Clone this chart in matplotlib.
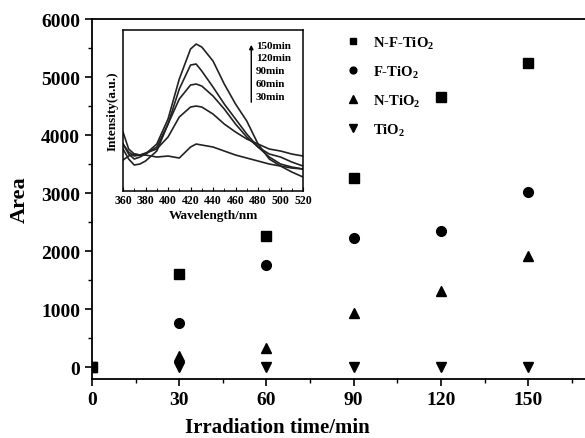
import matplotlib

matplotlib.use('Agg')

from matplotlib import pyplot as plt
from matplotlib.ticker import MultipleLocator

plt.rcParams['font.family'] = ['Liberation Serif', 'DejaVu Serif']
plt.rcParams['font.weight'] = 'bold'
plt.rcParams['mathtext.fontset'] = 'custom'
plt.rcParams['mathtext.rm'] = 'Liberation Serif:bold'
plt.rcParams['mathtext.bf'] = 'Liberation Serif:bold'

# 주 그래프 데이터 (조사 시간 vs 면적)
times = [0, 30, 60, 90, 120, 150]
area_nf = [0, 1615, 2265, 3260, 4650, 5235]
area_f = [0, 760, 1755, 2230, 2345, 3015]
area_n = [0, 195, 335, 935, 1320, 1920]
area_tio2 = [0, 0, 0, 0, 0, 0]

# 삽입 그래프 데이터 (파장 vs 강도)
wavelengths = [360, 365, 370, 375, 380, 390, 400, 410, 420, 425,
               430, 440, 450, 460, 470, 480, 490, 500, 510, 520]
int_150 = [47, 37, 32, 34, 37, 47, 72, 112, 142, 147, 144, 130, 107, 87, 70, 47, 32, 25, 19, 14]
int_120 = [42, 32, 26, 27, 30, 40, 67, 102, 126, 127, 120, 104, 87, 72, 57, 44, 34, 27, 24, 22]
int_90 = [59, 42, 37, 36, 37, 44, 67, 92, 106, 107, 105, 95, 82, 67, 54, 44, 37, 34, 29, 25]
int_60 = [47, 39, 35, 36, 38, 42, 54, 74, 84, 85, 84, 77, 67, 59, 52, 47, 42, 40, 37, 35]
int_30 = [31, 35, 37, 36, 36, 34, 35, 33, 44, 47, 46, 44, 40, 36, 33, 30, 27, 25, 23, 22]
time_labels = ['150min', '120min', '90min', '60min', '30min']

fig = plt.figure(figsize=(5.85, 4.39), dpi=100)
ax = fig.add_axes([0.1573, 0.1344, 0.845, 0.82])

ax.plot(times, area_nf, 's', color='black', markersize=6.5, label='N-F-TiO$_2$')
ax.plot(times, area_f, 'o', color='black', markersize=7, label='F-TiO$_2$')
ax.plot(times, area_n, '^', color='black', markersize=7.5, label='N-TiO$_2$')
ax.plot(times, area_tio2, 'v', color='black', markersize=7.5, label='TiO$_2$')

ax.set_xlim(0, 170)
ax.set_ylim(-200, 6000)
ax.set_xticks([0, 30, 60, 90, 120, 150])
ax.set_yticks([0, 1000, 2000, 3000, 4000, 5000, 6000])
ax.xaxis.set_minor_locator(MultipleLocator(15))
ax.yaxis.set_minor_locator(MultipleLocator(500))
ax.tick_params(which='major', direction='out', length=5, width=1.2, labelsize=14)
ax.tick_params(which='minor', direction='out', length=3, width=1.0)
ax.tick_params(top=False, right=False)
for s in ax.spines.values():
    s.set_linewidth(1.3)
ax.set_xlabel('Irradiation time/min', fontsize=15, fontweight='bold')
ax.xaxis.set_label_coords(0.375, -0.105)
ax.set_ylabel('Area', fontsize=16, fontweight='bold', labelpad=8)

leg = ax.legend(loc='upper left', bbox_to_anchor=(0.472, 0.995), frameon=False,
                fontsize=10.5, labelspacing=0.85, handletextpad=0.4, markerscale=0.7)

# 삽입 그래프
ins = fig.add_axes([0.2103, 0.5626, 0.3077, 0.3667])
for vals in [int_150, int_120, int_90, int_60, int_30]:
    ins.plot(wavelengths, vals, color='#222222', linewidth=1.2)
ins.set_xlim(360, 520)
ins.set_ylim(0, 161)
ins.set_xticks(range(360, 521, 20))
ins.xaxis.set_minor_locator(MultipleLocator(10))
ins.set_yticks([])
ins.tick_params(which='major', direction='in', length=3, labelsize=8.5, pad=2)
ins.tick_params(which='minor', direction='in', length=2)
for s in ins.spines.values():
    s.set_linewidth(1.1)
ins.set_xlabel('Wavelength/nm', fontsize=9.5, fontweight='bold', labelpad=2)
ins.set_ylabel('Intensity(a.u.)', fontsize=9.5, fontweight='bold', labelpad=3)

# 시간 화살표와 라벨
ins.annotate('', xy=(474, 149), xytext=(474, 86),
             arrowprops=dict(arrowstyle='-|>', color='black', lw=1.0, mutation_scale=6))
for i, lab in enumerate(time_labels):
    ins.text(478, 146 - i * 12.9, lab, fontsize=8, fontweight='bold', va='center', ha='left')

plt.savefig('out.png', dpi=100)
plt.close()
